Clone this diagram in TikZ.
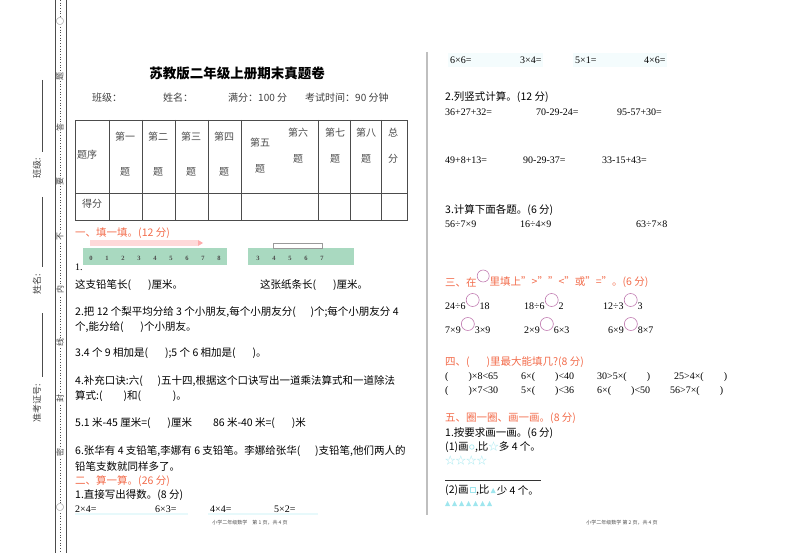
\documentclass[tikz,border=0pt]{standalone}
\usepackage{fontspec}
\setmainfont{Noto Sans CJK SC}
\newfontfamily\numf{Liberation Serif}
\definecolor{secred}{HTML}{F26B4A}
\definecolor{circ}{HTML}{C07AB0}
\definecolor{cy}{HTML}{9FE6EE}
\definecolor{rul}{HTML}{A9D9C0}
\begin{document}
\begin{tikzpicture}[x=1pt,y=-1pt,
  t/.style={anchor=west,inner sep=0pt,font=\fontsize{10.5}{11}\selectfont},
  n/.style={anchor=west,inner sep=0pt,font=\numf\fontsize{10}{10}\selectfont},
  sec/.style={t,text=secred},
  c/.style={inner sep=0pt,font=\fontsize{10}{10}\selectfont},
  cell/.style={c,text=black!70},
  mg/.style={inner sep=0.5pt,rotate=90,font=\fontsize{8}{8}\selectfont,text=black!75,fill=white},
  oc/.style={draw=circ,line width=0.6pt},
  ocn/.style={oc,circle,inner sep=0pt,minimum size=13pt,anchor=west},
  foot/.style={inner sep=0pt,font=\fontsize{5}{5}\selectfont,text=black!70}]
\useasboundingbox (0,0) rectangle (800,553);
% left margin
\draw[black!70,line width=0.5pt] (55,0) -- (55,553) (66,0) -- (66,553);
\draw[black!70,dotted,line width=0.7pt] (60,0) -- (60,553);
\foreach \ch/\yy in {○/22,题/77,答/128,要/182,不/237,内/290,线/342,封/398,密/452,○/507}
  \node[mg] (m\yy) at (60,\yy) {\ch};
\draw[black!70,line width=0.5pt] (42,80) -- (42,152) (42,197) -- (42,267) (42,313) -- (42,377);
\node[mg,fill=none,font=\fontsize{9}{9}\selectfont] (lb1) at (37,168) {班级:};
\node[mg,fill=none,font=\fontsize{9}{9}\selectfont] (lb2) at (37,284) {姓名:};
\node[mg,fill=none,font=\fontsize{9}{9}\selectfont] (lb3) at (37,403) {准考证号:};
% divider
\draw[black!25,line width=1.5pt] (427,52) -- (427,515);
% title
\node[c,font=\bfseries\fontsize{13.5}{14}\selectfont] (title) at (237,73) {苏教版二年级上册期末真题卷};
\node[t,text=black!75,font=\fontsize{10}{10}\selectfont] (i1) at (92,98) {班级：};
\node[t,text=black!75,font=\fontsize{10}{10}\selectfont] (i2) at (163,98) {姓名：};
\node[t,text=black!75,font=\fontsize{10}{10}\selectfont] (i3) at (228,98) {满分：100 分};
\node[t,text=black!75,font=\fontsize{10}{10}\selectfont] (i4) at (305,98) {考试时间：90 分钟};
% table
\draw[black!70,line width=0.6pt] (75,120) rectangle (407,220);
\draw[black!70,line width=0.6pt] (75,193) -- (407,193);
\foreach \xx in {109,142,175,208,241,318,350,381} \draw[black!70,line width=0.6pt] (\xx,120) -- (\xx,220);
\node[cell] (h0) at (87,155) {题序};
\foreach \xx/\w in {125/一,158/二,191/三,224/四} {
  \node[cell] (a\xx) at (\xx,137) {第\w};
  \node[cell] (b\xx) at (\xx,172) {题};}
\node[cell] (a5) at (260,143) {第五};
\node[cell] (b5) at (260,169) {题};
\foreach \xx/\w in {298/第六,335/第七,366/第八,393/总} {
  \node[cell] (a\xx) at (\xx,133) {\w};}
\foreach \xx/\w in {298/题,335/题,366/题,393/分} {
  \node[cell] (b\xx) at (\xx,159) {\w};}
\node[cell] (df) at (92,204) {得分};
% section 1
\node[sec] (s1) at (75,233) {一、填一填。(12 分)};
\fill[pink!60] (90,240) rectangle (198,246);
\fill[pink!90!red] (198,240) -- (203,243) -- (198,246) -- cycle;
\fill[rul] (83,248) rectangle (227,265);
\fill[rul] (248,248) rectangle (354,265);
\draw[black!40,fill=white,line width=0.4pt] (273,243) rectangle (322,248);
\foreach \k [count=\i from 0] in {0,...,8} \node[inner sep=0pt,font=\numf\bfseries\fontsize{6.5}{6.5}\selectfont,text=black!70] (r\i) at (91+16*\i,258) {\k};
\foreach \k [count=\i from 0] in {3,...,7} \node[inner sep=0pt,font=\numf\bfseries\fontsize{6.5}{6.5}\selectfont,text=black!70] (q\i) at (258+16*\i,258) {\k};
\node[n] (q1a) at (75,267) {1.};
\node[t] (q1b) at (75,285) {这支铅笔长(\hspace{1.6em})厘米。};
\node[t] (q1c) at (260,285) {这张纸条长(\hspace{1.6em})厘米。};
\node[t] (q2a) at (75,312) {2.把 12 个梨平均分给 3 个小朋友,每个小朋友分(\hspace{1.4em})个;每个小朋友分 4};
\node[t] (q2b) at (75,327) {个,能分给(\hspace{1.6em})个小朋友。};
\node[t] (q3) at (75,353) {3.4 个 9 相加是(\hspace{1.6em});5 个 6 相加是(\hspace{1.6em})。};
\node[t] (q4a) at (75,381) {4.补充口诀:六(\hspace{1.4em})五十四,根据这个口诀写出一道乘法算式和一道除法};
\node[t] (q4b) at (75,396) {算式:(\hspace{2em})和(\hspace{3em})。};
\node[t] (q5) at (75,423) {5.1 米-45 厘米=(\hspace{1.6em})厘米\hspace{2em}86 米-40 米=(\hspace{1.6em})米};
\node[t] (q6a) at (75,451) {6.张华有 4 支铅笔,李娜有 6 支铅笔。李娜给张华(\hspace{1.4em})支铅笔,他们两人的};
\node[t] (q6b) at (75,466) {铅笔支数就同样多了。};
\node[sec] (s2) at (75,481) {二、算一算。(26 分)};
\node[t] (s21) at (75,495) {1.直接写出得数。(8 分)};
\fill[cy!25] (75,513) rectangle (188,515);
\fill[cy!25] (208,513) rectangle (318,515);
\node[n] (e1) at (75,509) {2×4=};
\node[n] (e2) at (155,509) {6×3=};
\node[n] (e3) at (210,509) {4×4=};
\node[n] (e4) at (274,509) {5×2=};
\node[foot] (f1) at (250,523) {小学二年级数学\quad 第 1 页，共 4 页};
% right column
\fill[cy!12] (448,53) rectangle (543,67);
\fill[cy!12] (573,53) rectangle (667,67);
\node[n] (g1) at (450,60) {6×6=};
\node[n] (g2) at (520,60) {3×4=};
\node[n] (g3) at (575,60) {5×1=};
\node[n] (g4) at (644,60) {4×6=};
\node[t] (s22) at (445,97) {2.列竖式计算。(12 分)};
\node[n] (v1) at (445,112) {36+27+32=};
\node[n] (v2) at (536,112) {70-29-24=};
\node[n] (v3) at (617,112) {95-57+30=};
\node[n] (v4) at (445,160) {49+8+13=};
\node[n] (v5) at (523,160) {90-29-37=};
\node[n] (v6) at (602,160) {33-15+43=};
\node[t] (s23) at (445,210) {3.计算下面各题。(6 分)};
\node[n] (w1) at (445,224) {56÷7×9};
\node[n] (w2) at (520,224) {16÷4×9};
\node[n] (w3) at (636,224) {63÷7×8};
% section 3
\node[sec] (s3a) at (445,282) {三、在};
\node[ocn,minimum size=12pt] (s3c) at ([yshift=6pt]s3a.east) {};
\node[sec] (s3b) at ([yshift=-6pt]s3c.east) {里填上">""<"或"="。(6 分)};
\foreach \nm/\xx/\yy/\a/\b in {x1/445/306/24÷6/18, x2/524/306/18÷6/2, x3/603/306/12÷3/3,
    x4/445/330/7×9/3×9, x5/524/330/2×9/6×3, x6/608/330/6×9/8×7} {
  \node[n] (\nm) at (\xx,\yy) {\a};
  \node[ocn] (\nm c) at ([yshift=6pt]\nm.east) {};
  \node[n] (\nm b) at ([yshift=-6pt]\nm c.east) {\b};}
% section 4
\node[sec] (s4) at (445,362) {四、(\hspace{1.6em})里最大能填几?(8 分)};
\node[n] (y1) at (445,377) {(\hspace{2em})×8<65};
\node[n] (y2) at (521,377) {6×(\hspace{2em})<40};
\node[n] (y3) at (597,377) {30>5×(\hspace{2em})};
\node[n] (y4) at (674,377) {25>4×(\hspace{2em})};
\node[n] (y5) at (445,391) {(\hspace{2em})×7<30};
\node[n] (y6) at (521,391) {5×(\hspace{2em})<36};
\node[n] (y7) at (597,391) {6×(\hspace{2em})<50};
\node[n] (y8) at (670,391) {56>7×(\hspace{2em})};
% section 5
\node[sec] (s5) at (445,418) {五、圈一圈、画一画。(8 分)};
\node[t] (z1) at (445,433) {1.按要求画一画。(6 分)};
\node[t] (z2a) at (445,447) {(1)画};
\draw[cy,line width=0.6pt] ([xshift=3pt]z2a.east) circle (2.3pt);
\node[t] (z2b) at ([xshift=6pt]z2a.east) {,比{\color{cy}☆}多 4 个。};
\node[t,text=cy] (z3) at (445,461) {☆☆☆☆};
\draw[black!80,line width=0.6pt] (445,480) -- (541,480);
\node[t] (z4a) at (445,490) {(2)画};
\draw[cy,line width=0.6pt] ([xshift=1pt,yshift=-2.5pt]z4a.east) rectangle ++(5pt,5pt);
\node[t] (z4b) at ([xshift=7pt]z4a.east) {,比};
\fill[cy] ([xshift=1pt,yshift=-3pt]z4b.east) -- ++(5pt,0) -- ++(-2.5pt,5pt) -- cycle;
\node[t] (z4c) at ([xshift=7pt]z4b.east) {少 4 个。};
\foreach \i in {0,...,6}
  \fill[cy] (445+7*\i,506) -- ++(5,0) -- ++(-2.5,-5) -- cycle;
\node[foot] (f2) at (622,523) {小学二年级数学 第 2 页，共 4 页};
\end{tikzpicture}
\end{document}
